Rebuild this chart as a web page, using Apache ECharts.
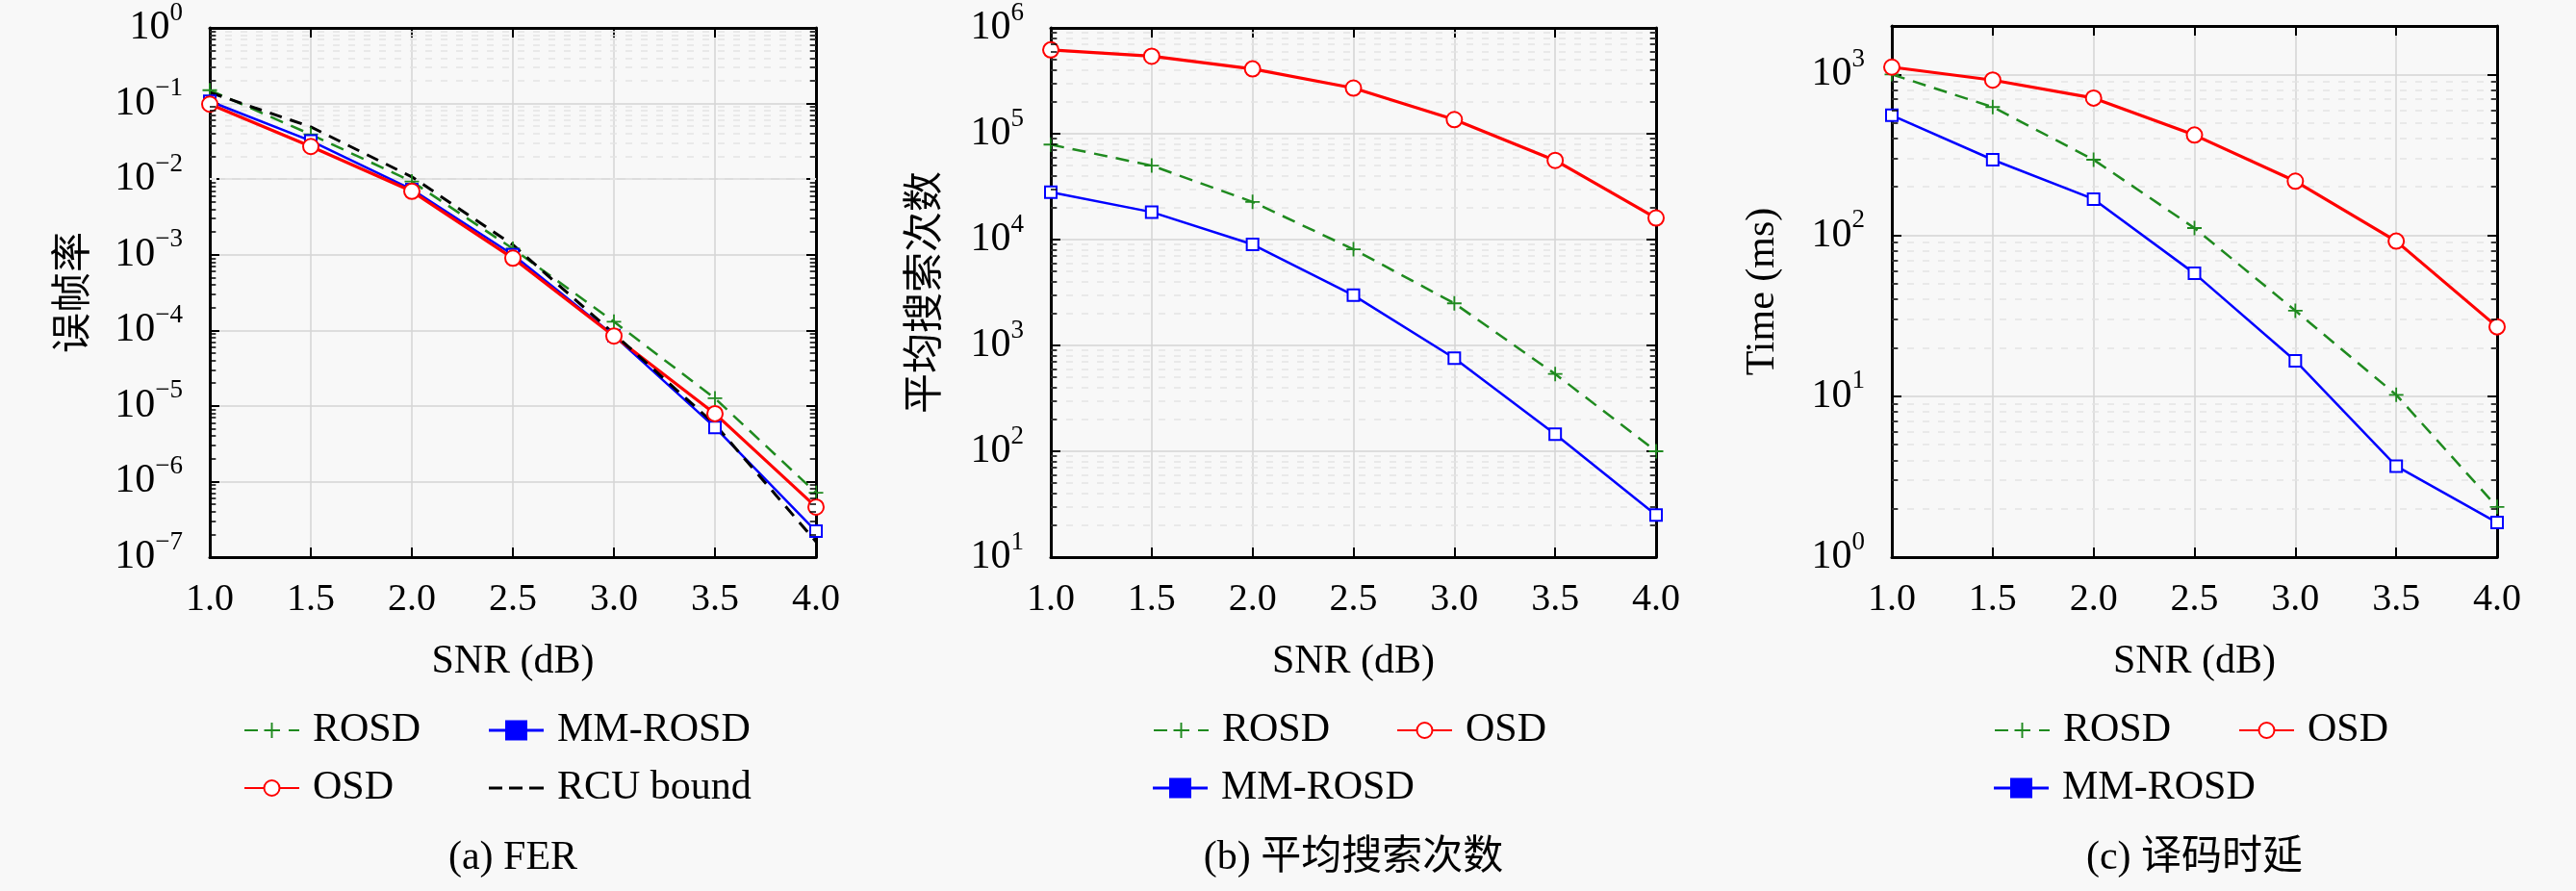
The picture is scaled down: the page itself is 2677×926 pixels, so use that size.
<!DOCTYPE html>
<html>
<head>
	<meta charset="utf-8">
	<title>FER / 平均搜索次数 / 译码时延</title>
	<script src="https://cdn.jsdelivr.net/npm/echarts@6/dist/echarts.min.js"></script>
	<style>
		html, body { margin: 0; padding: 0; background: #f8f8f8; }
	</style>
</head>
<body>
	<div id="main" style="width: 2677px; height: 926px;"></div>
	<script type="text/javascript">
		// x axis: SNR (dB)
		var snr = [1.0, 1.5, 2.0, 2.5, 3.0, 3.5, 4.0];

		// (a) FER
		var ferRosd = [0.15, 0.039, 0.0093, 0.0012, 1.3e-4, 1.26e-5, 7.1e-7];
		var ferMm = [0.107, 0.032, 0.0073, 1.0e-3, 8.5e-5, 5.2e-6, 2.2e-7];
		var ferOsd = [0.098, 0.027, 0.0069, 9.0e-4, 8.4e-5, 7.9e-6, 4.6e-7];
		var ferRcu = [0.14, 0.049, 0.0107, 1.35e-3, 9.0e-5, 5.7e-6, 1.6e-7];

		// (b) 平均搜索次数
		var searchRosd = [79000, 50000, 22700, 8100, 2500, 537, 100];
		var searchOsd = [620000, 540000, 410000, 270000, 136000, 56000, 16000];
		var searchMm = [28000, 18200, 9000, 2980, 757, 145, 25];

		// (c) 译码时延 (ms)
		var timeRosd = [1000, 627, 295, 111, 34, 10.2, 2.05];
		var timeOsd = [1110, 922, 713, 420, 217, 92, 27];
		var timeMm = [557, 295, 168, 58, 16.6, 3.68, 1.64];

		var serif = 'Liberation Serif';
		var cjk = 'Noto Sans CJK SC';
		var colors = { rosd: '#1f8a1f', mm: '#0000ff', osd: '#ff0000', rcu: '#000000' };

		var grids = [
			{ left: 218, top: 27, width: 630, height: 552 },
			{ left: 1092, top: 27, width: 629, height: 552 },
			{ left: 1966, top: 27, width: 629, height: 552 }
		];
		var panels = [
			{ yMin: 1e-7, yMax: 1, yName: '误帧率', yFont: cjk, yGap: 124, caption: '(a) FER' },
			{ yMin: 10, yMax: 1e6, yName: '平均搜索次数', yFont: cjk, yGap: 113, caption: '(b) 平均搜索次数' },
			{ yMin: 1, yMax: 2000, yName: 'Time (ms)', yFont: serif, yGap: 113, caption: '(c) 译码时延' }
		];

		function pairs(ys) {
			return snr.map(function (x, i) { return [x, ys[i]]; });
		}

		function decadeLabel(v) {
			var e = Math.log10(v);
			var r = Math.round(e);
			if (Math.abs(e - r) > 1e-6) return '';
			return '{b|10}{s|' + (r < 0 ? '\u2212' + (-r) : r) + '}';
		}

		// 2..9 x 10^k between the axis limits
		function minorValues(lo, hi) {
			var out = [];
			for (var k = Math.floor(Math.log10(lo)); k < Math.ceil(Math.log10(hi)); k++) {
				for (var m = 2; m <= 9; m++) {
					var v = m * Math.pow(10, k);
					if (v > lo && v < hi) out.push(v);
				}
			}
			return out;
		}

		function minorGrid(p) {
			return {
				silent: true, z: 1, symbol: ['none', 'none'], animation: false,
				label: { show: false },
				lineStyle: { color: '#e3e3e3', type: [7, 9], width: 1.5 },
				data: minorValues(p.yMin, p.yMax).map(function (v) { return { yAxis: v }; })
			};
		}

		function minorTicks(p) {
			var d = [];
			minorValues(p.yMin, p.yMax).forEach(function (v) {
				d.push([{ coord: [1, v] }, { coord: [1.03, v] }]);
				d.push([{ coord: [3.97, v] }, { coord: [4, v] }]);
			});
			return {
				silent: true, z: 6, symbol: ['none', 'none'], animation: false,
				label: { show: false },
				lineStyle: { color: '#000', type: 'solid', width: 1.5 },
				data: d
			};
		}

		var crossPath = 'path://M0,4.4h10v1.2h-10z M4.4,0h1.2v10h-1.2z';

		var xAxes = [], yAxes = [], series = [], legends = [], graphics = [];

		grids.forEach(function (g, i) {
			var p = panels[i];
			xAxes.push({
				gridIndex: i, type: 'value', min: 1, max: 4, interval: 0.5,
				name: 'SNR (dB)', nameLocation: 'middle', nameGap: 88,
				nameTextStyle: { fontSize: 42, fontFamily: serif, color: '#000' },
				axisLine: { onZero: false, lineStyle: { color: '#000', width: 3 } },
				axisTick: { inside: true, length: 10, lineStyle: { color: '#000', width: 2 } },
				axisLabel: {
					margin: 24, fontSize: 40, fontFamily: serif, color: '#000',
					formatter: function (v) { return v.toFixed(1); }
				},
				splitLine: { show: true, lineStyle: { color: '#d4d4d4', width: 1.5 } }
			});
			xAxes.push({
				gridIndex: i, type: 'value', min: 1, max: 4, interval: 0.5, position: 'top',
				axisLine: { onZero: false, lineStyle: { color: '#000', width: 3 } },
				axisTick: { inside: true, length: 10, lineStyle: { color: '#000', width: 2 } },
				axisLabel: { show: false },
				splitLine: { show: false }
			});
			yAxes.push({
				gridIndex: i, type: 'log', logBase: 10, min: p.yMin, max: p.yMax,
				name: p.yName, nameLocation: 'middle', nameGap: p.yGap,
				nameTextStyle: { fontSize: 42, fontFamily: p.yFont, color: '#000' },
				axisLine: { onZero: false, lineStyle: { color: '#000', width: 3 } },
				axisTick: { inside: true, length: 10, lineStyle: { color: '#000', width: 2 } },
				axisLabel: {
					margin: 28, color: '#000',
					formatter: decadeLabel,
					rich: {
						b: { fontSize: 42, fontFamily: serif, color: '#000', lineHeight: 58 },
						s: { fontSize: 27, fontFamily: serif, color: '#000', lineHeight: 28, verticalAlign: 'top' }
					}
				},
				splitLine: { show: true, lineStyle: { color: '#d4d4d4', width: 1.5 } }
			});
			yAxes.push({
				gridIndex: i, type: 'log', logBase: 10, min: p.yMin, max: p.yMax, position: 'right',
				axisLine: { onZero: false, lineStyle: { color: '#000', width: 3 } },
				axisTick: { inside: true, length: 10, lineStyle: { color: '#000', width: 2 } },
				axisLabel: { show: false },
				splitLine: { show: false }
			});

			graphics.push({
				type: 'text', x: g.left + g.width / 2, y: 892,
				style: {
					text: p.caption, fontSize: 42, fontFamily: serif + ', ' + cjk,
					fill: '#000', align: 'center', verticalAlign: 'middle'
				}
			});
		});

		function lineSeries(name, grid, ys, opt) {
			return Object.assign({
				name: name, type: 'line',
				xAxisIndex: grid * 2, yAxisIndex: grid * 2,
				data: pairs(ys), z: 3
			}, opt);
		}

		function rosd(grid, ys) {
			return lineSeries('ROSD', grid, ys, {
				symbol: crossPath, symbolSize: 15,
				itemStyle: { color: colors.rosd },
				lineStyle: { color: colors.rosd, width: 2.5, type: [14, 9] }
			});
		}
		function mm(grid, ys) {
			return lineSeries('MM-ROSD', grid, ys, {
				symbol: 'emptyRect', symbolSize: 12,
				itemStyle: { color: colors.mm, borderWidth: 2 },
				lineStyle: { color: colors.mm, width: 2.5 }
			});
		}
		function osd(grid, ys) {
			return lineSeries('OSD', grid, ys, {
				symbol: 'emptyCircle', symbolSize: 16,
				itemStyle: { color: colors.osd, borderWidth: 2.5 },
				lineStyle: { color: colors.osd, width: 3.2 }
			});
		}

		var s;
		// (a)
		s = rosd(0, ferRosd); s.markLine = minorGrid(panels[0]); series.push(s);
		s = mm(0, ferMm); s.markLine = minorTicks(panels[0]); series.push(s);
		series.push(osd(0, ferOsd));
		series.push(lineSeries('RCU bound', 0, ferRcu, {
			symbol: 'none', itemStyle: { color: colors.rcu },
			lineStyle: { color: colors.rcu, width: 3, type: [13, 9] }
		}));
		// (b)
		s = rosd(1, searchRosd); s.markLine = minorGrid(panels[1]); series.push(s);
		s = osd(1, searchOsd); s.markLine = minorTicks(panels[1]); series.push(s);
		series.push(mm(1, searchMm));
		// (c)
		s = rosd(2, timeRosd); s.markLine = minorGrid(panels[2]); series.push(s);
		s = osd(2, timeOsd); s.markLine = minorTicks(panels[2]); series.push(s);
		series.push(mm(2, timeMm));

		var mmIcon = 'path://M0,9h57v3h-57z M17,0h23v21h-23z';
		var rcuIcon = 'path://M0,0h14v3h-14z M21,0h14v3h-14z M42,0h15v3h-15z';

		function legendItem(name, left, top, icon, itemHeight) {
			var item = { name: name };
			if (icon) item.icon = icon;
			return {
				left: left, top: top, padding: 0, selectedMode: false,
				itemWidth: 57, itemHeight: itemHeight || 20,
				textStyle: { fontSize: 42, fontFamily: serif, color: '#000', padding: [0, 0, 0, 9] },
				data: [item]
			};
		}

		var row1 = 738, row2 = 798;
		legends.push(legendItem('ROSD', 253, row1));
		legends.push(legendItem('MM-ROSD', 508, row1, mmIcon, 21));
		legends.push(legendItem('OSD', 253, row2));
		legends.push(legendItem('RCU bound', 508, row2, rcuIcon, 3));
		legends.push(legendItem('ROSD', 1198, row1));
		legends.push(legendItem('OSD', 1451, row1));
		legends.push(legendItem('MM-ROSD', 1198, row2, mmIcon, 21));
		legends.push(legendItem('ROSD', 2072, row1));
		legends.push(legendItem('OSD', 2326, row1));
		legends.push(legendItem('MM-ROSD', 2072, row2, mmIcon, 21));

		var myChart = echarts.init(document.getElementById('main'));
		var option = {
			backgroundColor: '#f8f8f8',
			animation: false,
			grid: grids,
			xAxis: xAxes,
			yAxis: yAxes,
			legend: legends,
			graphic: graphics,
			series: series
		};
		myChart.setOption(option);
	</script>
</body>
</html>
